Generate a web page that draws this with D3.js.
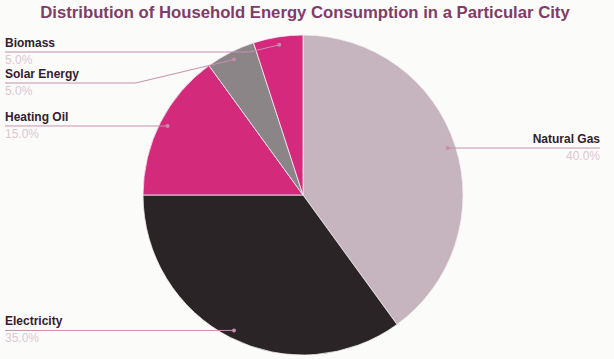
<!DOCTYPE html>
<html>
<head>
<meta charset="utf-8">
<script src="https://cdn.jsdelivr.net/npm/d3@7"></script>
<style>
  body { margin: 0; background: #fbfbf9; }
  svg { display: block; font-family: "Liberation Sans", Arial, sans-serif; }
</style>
</head>
<body>
<div id="chart"></div>
<script>
var categories = ['Natural Gas', 'Electricity', 'Heating Oil', 'Solar Energy', 'Biomass'];
var shares = [40, 35, 15, 5, 5];
var sliceColors = ['#c6b5be', '#2a2427', '#d42a7c', '#8b8588', '#d4297d'];

var width = 614, height = 359;
var cx = 303, cy = 195, radius = 160;

var svg = d3.select('#chart')
    .append('svg')
    .attr('width', width)
    .attr('height', height);

svg.append('text')
    .attr('x', 305)
    .attr('y', 18)
    .attr('text-anchor', 'middle')
    .attr('font-size', 16.7)
    .attr('font-weight', 'bold')
    .attr('fill', '#803c68')
    .text('Distribution of Household Energy Consumption in a Particular City');

var data = categories.map(function(c, i) {
    return {name: c, value: shares[i], color: sliceColors[i]};
});

var pie = d3.pie()
    .value(function(d) { return d.value; })
    .sort(null);

var arc = d3.arc().innerRadius(0).outerRadius(radius);
var dotArc = d3.arc().innerRadius(radius * 0.95).outerRadius(radius * 0.95);

var arcs = pie(data);

var g = svg.append('g')
    .attr('transform', 'translate(' + cx + ',' + cy + ')');

g.selectAll('path.slice')
    .data(arcs)
    .enter()
    .append('path')
    .attr('class', 'slice')
    .attr('d', arc)
    .attr('fill', function(d) { return d.data.color; })
    .attr('stroke', '#f4eef1')
    .attr('stroke-width', 0.8);

// label layout: dots near the rim, labels pushed apart on each side
var labels = arcs.map(function(d) {
    var p = dotArc.centroid(d);
    var mid = (d.startAngle + d.endAngle) / 2;
    return {d: d, dx: cx + p[0], dy: cy + p[1], right: mid < Math.PI};
});

var left = labels.filter(function(l) { return !l.right; })
    .sort(function(a, b) { return a.dy - b.dy; });
var prev = -Infinity;
left.forEach(function(l) {
    l.ly = Math.max(l.dy, 52, prev + 31);
    prev = l.ly;
});
labels.filter(function(l) { return l.right; }).forEach(function(l) { l.ly = l.dy; });

var lg = svg.append('g');

labels.forEach(function(l) {
    var lx = l.right ? 600 : 5;
    var bend = l.right ? l.dx + 4.2 * (l.ly - l.dy) : l.dx - 4.2 * (l.ly - l.dy);
    var pts = [[lx, l.ly], [bend, l.ly], [l.dx, l.dy]];

    lg.append('path')
        .attr('d', d3.line()(pts))
        .attr('fill', 'none')
        .attr('stroke', '#c790ad')
        .attr('stroke-width', 1);

    lg.append('circle')
        .attr('cx', l.dx)
        .attr('cy', l.dy)
        .attr('r', 2)
        .attr('fill', '#c98aab');

    lg.append('text')
        .attr('x', lx)
        .attr('y', l.ly - 5)
        .attr('text-anchor', l.right ? 'end' : 'start')
        .attr('font-size', 12)
        .attr('font-weight', 'bold')
        .attr('fill', '#33202c')
        .text(l.d.data.name);

    lg.append('text')
        .attr('x', lx)
        .attr('y', l.ly + 12)
        .attr('text-anchor', l.right ? 'end' : 'start')
        .attr('font-size', 12)
        .attr('fill', '#dec6d3')
        .text(l.d.data.value.toFixed(1) + '%');
});
</script>
</body>
</html>
